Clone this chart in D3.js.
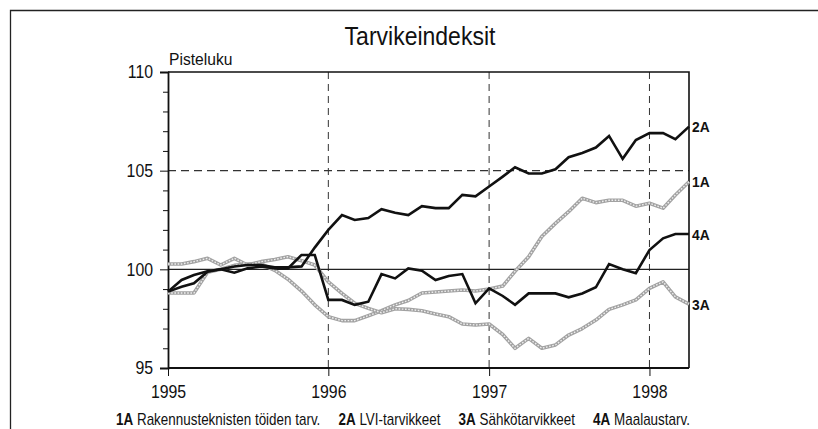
<!DOCTYPE html>
<html><head><meta charset="utf-8">
<script src="https://cdn.jsdelivr.net/npm/d3@7"></script>
<style>
html,body{margin:0;padding:0;background:#fff;}
svg{display:block;}
text{font-family:"Liberation Sans",Arial,sans-serif;fill:#111;}
</style></head>
<body><svg id="c" width="818" height="429"></svg>
<script>
const title = "Tarvikeindeksit";
const yTitle = "Pisteluku";
const months = ["1995-01","1995-02","1995-03","1995-04","1995-05","1995-06","1995-07","1995-08","1995-09","1995-10","1995-11","1995-12",
"1996-01","1996-02","1996-03","1996-04","1996-05","1996-06","1996-07","1996-08","1996-09","1996-10","1996-11","1996-12",
"1997-01","1997-02","1997-03","1997-04","1997-05","1997-06","1997-07","1997-08","1997-09","1997-10","1997-11","1997-12",
"1998-01","1998-02","1998-03","1998-04"];
const yearTicks = ["1995","1996","1997","1998"];
const yMajor = [95,100,105,110];
const yMinor = [96,97,98,99,101,102,103,104,106,107,108,109];
const s1A = [98.8,98.8,98.8,99.85,100.0,100.2,100.27,100.27,99.95,99.5,98.9,98.2,
97.6,97.4,97.4,97.65,97.9,98.2,98.42,98.8,98.85,98.9,98.95,98.9,
99.0,99.15,99.9,100.64,101.66,102.33,102.92,103.6,103.38,103.5,103.5,103.2,
103.35,103.1,103.77,104.44];
const s2A = [98.87,99.46,99.71,99.9,100.0,100.14,100.22,100.22,100.1,100.1,100.15,101.1,
102.0,102.75,102.5,102.6,103.05,102.87,102.75,103.2,103.1,103.1,103.77,103.7,
104.2,104.7,105.17,104.86,104.86,105.07,105.68,105.9,106.17,106.76,105.6,106.55,
106.9,106.9,106.6,107.23];
const s3A = [100.27,100.27,100.39,100.56,100.22,100.56,100.22,100.39,100.5,100.64,100.44,100.22,
99.37,98.78,98.28,98.02,97.8,98.0,97.97,97.9,97.74,97.6,97.23,97.18,
97.23,96.7,96.0,96.5,96.0,96.17,96.67,97.0,97.43,97.97,98.2,98.45,
99.04,99.37,98.6,98.24];
const s4A = [98.87,99.12,99.29,99.88,100.0,99.83,100.05,100.14,100.05,100.05,100.73,100.73,
98.45,98.45,98.2,98.36,99.76,99.54,100.05,99.93,99.46,99.66,99.76,98.28,
99.04,98.65,98.2,98.78,98.78,98.78,98.58,98.78,99.09,100.27,100.0,99.8,
100.98,101.57,101.79,101.79];
const seriesCodes = ["1A","2A","3A","4A"];
const seriesNames = ["Rakennusteknisten töiden tarv.","LVI-tarvikkeet","Sähkötarvikkeet","Maalaustarv."];
const seriesValues = [s1A,s2A,s3A,s4A];
const seriesStyle = ["gray","black","gray","black"];

// horizontally condense text around its anchor (mimics a narrow typeface)
function condense(sel, f){
  sel.each(function(){
    const ax = +(this.getAttribute("x")||0);
    d3.select(this).attr("transform",`translate(${ax},0) scale(${f},1) translate(${-ax},0)`);
  });
}

const parseM = d3.timeParse("%Y-%m");
const parseY = d3.timeParse("%Y");
const dates = months.map(parseM);
const svg = d3.select("#c");
const L = 168, R = 689, T = 72, B = 368;
const x = d3.scaleTime().domain([dates[0], dates[dates.length-1]]).range([L, R]);
const y = d3.scaleLinear().domain([95,110]).range([B, T]);

// outer frame
svg.append("path").attr("d", `M10.5,${429}V10.5H818`).attr("fill","none").attr("stroke","#222").attr("stroke-width",1.3);

// title
svg.append("text").attr("x", 420).attr("y", 45).attr("text-anchor","middle")
  .style("font-size","25px").text(title).call(condense, 0.92);
svg.append("text").attr("x", 169).attr("y", 65).style("font-size","17px").text(yTitle).call(condense, 0.92);

// gridlines
const g = svg.append("g");
g.selectAll(".vg").data(yearTicks.slice(1)).join("line")
  .attr("x1", d=>x(parseY(d))).attr("x2", d=>x(parseY(d)))
  .attr("y1", T).attr("y2", B)
  .attr("stroke","#333").attr("stroke-width",1).attr("stroke-dasharray","7,5");
g.append("line").attr("x1",L).attr("x2",R).attr("y1",y(105)).attr("y2",y(105))
  .attr("stroke","#333").attr("stroke-width",1.1).attr("stroke-dasharray","8,5");
g.append("line").attr("x1",L).attr("x2",R).attr("y1",y(100)).attr("y2",y(100))
  .attr("stroke","#222").attr("stroke-width",1.1);

// plot frame top & right
svg.append("path").attr("d",`M${L},${T}H${R}V${B}`).attr("fill","none").attr("stroke","#111").attr("stroke-width",1.6);

// y axis
const yAxis = d3.axisLeft(y).tickValues(yMajor).tickSize(8).tickPadding(7).tickFormat(d3.format("d"));
const ya = svg.append("g").attr("transform",`translate(${L},0)`).call(yAxis);
ya.select(".domain").attr("stroke","#111").attr("stroke-width",1.8);
ya.selectAll(".tick line").attr("stroke","#111").attr("stroke-width",1);
ya.selectAll(".tick text").style("font-size","18px").style("font-family",'"Liberation Sans",Arial,sans-serif')
  .attr("fill","#000").call(condense, 0.88);
const yMin = d3.axisLeft(y).tickValues(yMinor).tickSize(5).tickFormat("");
const ym = svg.append("g").attr("transform",`translate(${L},0)`).call(yMin);
ym.select(".domain").remove();
ym.selectAll(".tick line").attr("stroke","#111").attr("stroke-width",1);

// x axis
const xAxis = d3.axisBottom(x).tickValues(yearTicks.map(parseY)).tickSize(8).tickPadding(9).tickFormat(d3.timeFormat("%Y"));
const xa = svg.append("g").attr("transform",`translate(0,${B})`).call(xAxis);
xa.select(".domain").attr("stroke","#111").attr("stroke-width",1.8).attr("d",`M${L},0H${R}`);
xa.selectAll(".tick line").attr("stroke","#111").attr("stroke-width",1);
xa.selectAll(".tick text").style("font-size","18px").style("font-family",'"Liberation Sans",Arial,sans-serif')
  .attr("fill","#000").call(condense, 0.88);

// lines
const line = d3.line().x((d,i)=>x(dates[i])).y(d=>y(d));
const lg = svg.append("g");
seriesValues.forEach((vals,k)=>{
  if (seriesStyle[k]==="gray") {
    lg.append("path").datum(vals).attr("d",line).attr("fill","none")
      .attr("stroke","#a2a2a2").attr("stroke-width",3.6).attr("stroke-linejoin","round");
    lg.append("path").datum(vals).attr("d",line).attr("fill","none")
      .attr("stroke","#eeeeee").attr("stroke-width",1.4).attr("stroke-dasharray","1.6,1.6");
  }
});
seriesValues.forEach((vals,k)=>{
  if (seriesStyle[k]==="black") {
    lg.append("path").datum(vals).attr("d",line).attr("fill","none")
      .attr("stroke","#111").attr("stroke-width",2.6).attr("stroke-linejoin","miter");
  }
});

// end labels
seriesValues.forEach((vals,k)=>{
  svg.append("text").attr("x", R+3).attr("y", y(vals[vals.length-1])+5.5)
    .style("font-size","15px").style("font-weight","bold").text(seriesCodes[k]).call(condense, 0.92);
});

// legend
const leg = svg.append("g");
const lf = 0.84;
const items = seriesCodes.map((c,k)=>{
  const t = leg.append("text").attr("y",425).style("font-size","16px");
  t.append("tspan").style("font-weight","bold").text(c);
  t.append("tspan").text("\u00a0" + seriesNames[k]);
  return t;
});
const widths = items.map(t=>t.node().getComputedTextLength()*lf);
const gap = 18;
const total = d3.sum(widths) + gap*(widths.length-1);
let cx = 403 - total/2;
items.forEach((t,k)=>{ t.attr("x", cx).call(condense, lf); cx += widths[k] + gap; });
</script></body></html>
